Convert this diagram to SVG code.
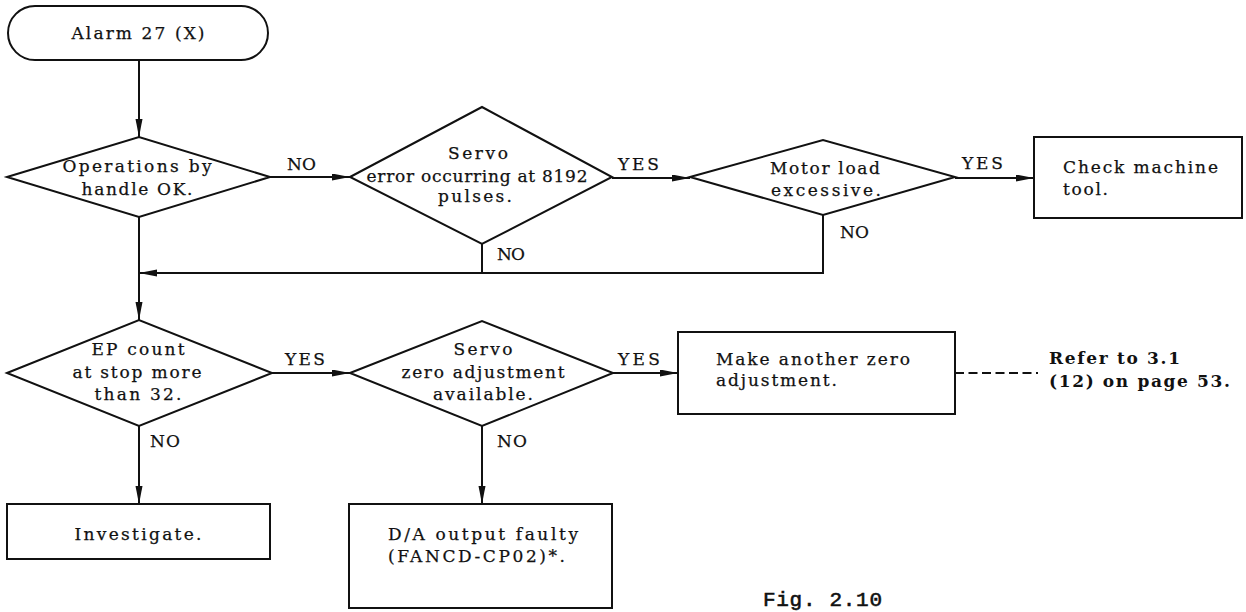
<svg xmlns="http://www.w3.org/2000/svg" width="1246" height="612" viewBox="0 0 1246 612">
<style>
.shape{fill:#fff;stroke:#111;stroke-width:2}
.t{font-family:"DejaVu Serif","Liberation Serif",serif;font-size:17px;fill:#111;stroke:#111;stroke-width:0.25}
.c{text-anchor:middle}
.ref{font-family:"DejaVu Serif","Liberation Serif",serif;font-size:17px;font-weight:bold;fill:#111}
.fig{font-family:"Liberation Mono","DejaVu Sans Mono",monospace;font-size:21px;fill:#111;stroke:#111;stroke-width:0.6}
.ln{fill:none;stroke:#111;stroke-width:2}
.dash{fill:none;stroke:#111;stroke-width:2;stroke-dasharray:9 4.5}
</style>
<defs>
<marker id="ah" markerUnits="userSpaceOnUse" markerWidth="20" markerHeight="10" refX="18" refY="3.5" orient="auto">
<path d="M0,0 L18,3.5 L0,7 z" fill="#111"/>
</marker>
</defs>
<g id="connectors">
<path class="ln" d="M139,60 L139,137" marker-end="url(#ah)"/>
<path class="ln" d="M270,177 L350,177" marker-end="url(#ah)"/>
<path class="ln" d="M612,178 L690,178" marker-end="url(#ah)"/>
<path class="ln" d="M955,178 L1034,178" marker-end="url(#ah)"/>
<path class="ln" d="M482,244 L482,273"/>
<path class="ln" d="M823,215 L823,273 L139,273" marker-end="url(#ah)"/>
<path class="ln" d="M139,217 L139,320" marker-end="url(#ah)"/>
<path class="ln" d="M272,373 L350,373" marker-end="url(#ah)"/>
<path class="ln" d="M613,373 L678,373" marker-end="url(#ah)"/>
<path class="dash" d="M955,373 L1038,373"/>
<path class="ln" d="M139,426 L139,504" marker-end="url(#ah)"/>
<path class="ln" d="M482,426 L482,504" marker-end="url(#ah)"/>
<text class="t" x="287" y="170" textLength="29" lengthAdjust="spacing">NO</text>
<text class="t" x="618" y="170" textLength="41" lengthAdjust="spacing">YES</text>
<text class="t" x="962" y="169" textLength="41" lengthAdjust="spacing">YES</text>
<text class="t" x="497" y="260" textLength="28" lengthAdjust="spacing">NO</text>
<text class="t" x="840" y="238" textLength="29" lengthAdjust="spacing">NO</text>
<text class="t" x="285" y="365" textLength="40" lengthAdjust="spacing">YES</text>
<text class="t" x="618" y="365" textLength="42" lengthAdjust="spacing">YES</text>
<text class="t" x="150" y="447" textLength="30" lengthAdjust="spacing">NO</text>
<text class="t" x="497" y="447" textLength="30" lengthAdjust="spacing">NO</text>
<text class="ref" x="1049" y="364" textLength="131" lengthAdjust="spacing">Refer to 3.1</text>
<text class="ref" x="1049" y="387" textLength="181" lengthAdjust="spacing">(12) on page 53.</text>
</g>
<g id="start">
<rect class="shape" x="8" y="6" width="260" height="54" rx="27" ry="27"/>
<text class="t c" x="138" y="39" textLength="133" lengthAdjust="spacing">Alarm 27 (X)</text>
</g>
<g id="d1">
<polygon class="shape" points="7,177 139,137 270,177 139,217"/>
<text class="t c" x="137" y="172" textLength="149" lengthAdjust="spacing">Operations by</text>
<text class="t c" x="137" y="195" textLength="111" lengthAdjust="spacing">handle OK.</text>
</g>
<g id="d2">
<polygon class="shape" points="350,177 482,107 612,177 482,244"/>
<text class="t c" x="478" y="159" textLength="60" lengthAdjust="spacing">Servo</text>
<text class="t c" x="477" y="182" textLength="221" lengthAdjust="spacing">error occurring at 8192</text>
<text class="t c" x="475" y="202" textLength="74" lengthAdjust="spacing">pulses.</text>
</g>
<g id="d3">
<polygon class="shape" points="690,177 823,140 955,177 823,215"/>
<text class="t c" x="825" y="174" textLength="110" lengthAdjust="spacing">Motor load</text>
<text class="t c" x="826" y="196" textLength="110" lengthAdjust="spacing">excessive.</text>
</g>
<g id="check">
<rect class="shape" x="1034" y="137" width="208" height="81"/>
<text class="t" x="1063" y="173" textLength="155" lengthAdjust="spacing">Check machine</text>
<text class="t" x="1063" y="195" textLength="45" lengthAdjust="spacing">tool.</text>
</g>
<g id="d4">
<polygon class="shape" points="7,373 139,320 272,373 139,426"/>
<text class="t c" x="138" y="355" textLength="93" lengthAdjust="spacing">EP count</text>
<text class="t c" x="137" y="378" textLength="129" lengthAdjust="spacing">at stop more</text>
<text class="t c" x="138" y="400" textLength="87" lengthAdjust="spacing">than 32.</text>
</g>
<g id="d5">
<polygon class="shape" points="350,373 482,321 613,373 482,426"/>
<text class="t c" x="483" y="355" textLength="59" lengthAdjust="spacing">Servo</text>
<text class="t c" x="483" y="378" textLength="163" lengthAdjust="spacing">zero adjustment</text>
<text class="t c" x="483" y="400" textLength="100" lengthAdjust="spacing">available.</text>
</g>
<g id="make">
<rect class="shape" x="678" y="332" width="277" height="82"/>
<text class="t" x="716" y="365" textLength="194" lengthAdjust="spacing">Make another zero</text>
<text class="t" x="716" y="386" textLength="121" lengthAdjust="spacing">adjustment.</text>
</g>
<g id="investigate">
<rect class="shape" x="7" y="504" width="263" height="55"/>
<text class="t c" x="138" y="540" textLength="127" lengthAdjust="spacing">Investigate.</text>
</g>
<g id="da">
<rect class="shape" x="349" y="504" width="263" height="104"/>
<text class="t" x="388" y="540" textLength="190" lengthAdjust="spacing">D/A output faulty</text>
<text class="t" x="388" y="562" textLength="177" lengthAdjust="spacing">(FANCD-CP02)*.</text>
</g>
<text class="fig" x="763" y="606" textLength="119" lengthAdjust="spacing">Fig. 2.10</text>
</svg>
